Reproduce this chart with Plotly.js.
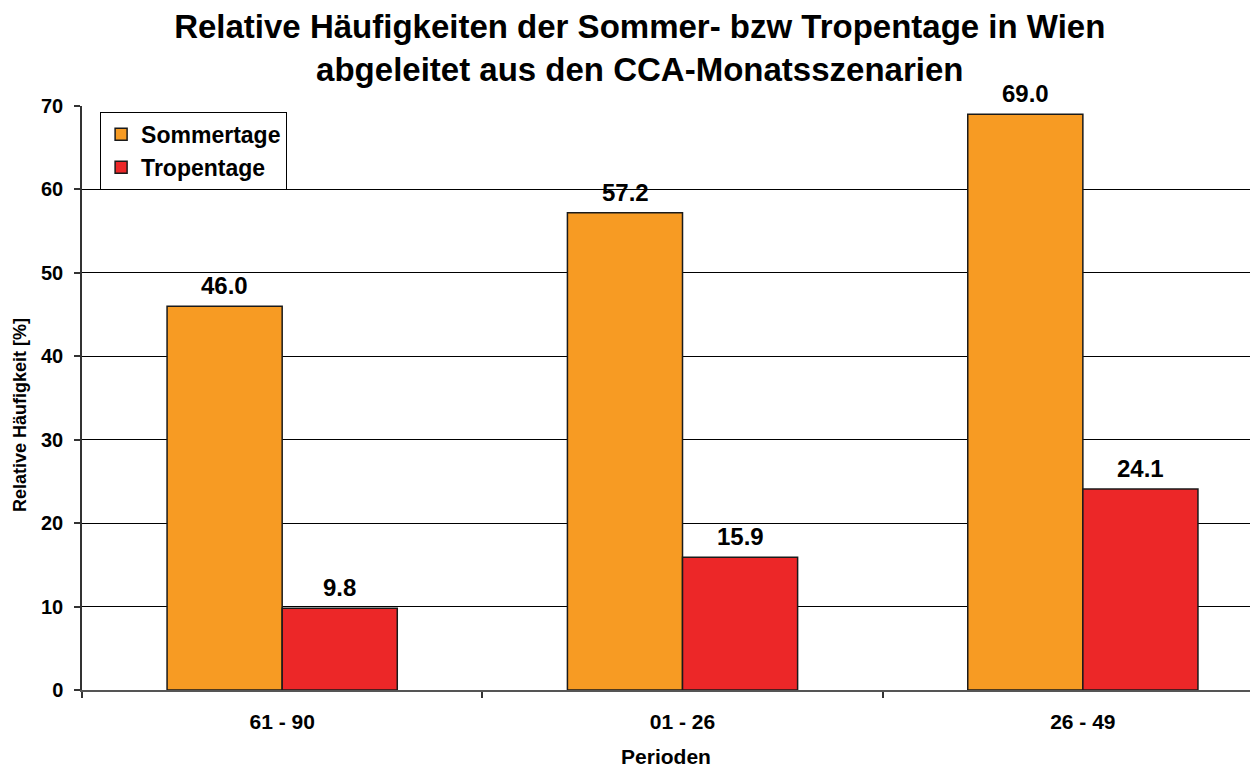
<!DOCTYPE html>
<html><head><meta charset="utf-8">
<script src="https://cdn.plot.ly/plotly-3.0.1.min.js"></script>
<style>html,body{margin:0;padding:0;background:#fff}</style>
</head><body>
<div id="chart" style="width:1252px;height:768px"></div>
<script>
const categories = ["61 - 90", "01 - 26", "26 - 49"];
const sommertage = [46.0, 57.2, 69.0];
const tropentage = [9.8, 15.9, 24.1];
const yTicks = [0, 10, 20, 30, 40, 50, 60, 70];

const FONT = "Liberation Sans, Arial, sans-serif";
const traces = [
  {type: "bar", name: "<b>Sommertage</b>", x: categories, y: sommertage,
   marker: {color: "#F79B23", line: {color: "#1a1a1a", width: 1.5}}},
  {type: "bar", name: "<b>Tropentage</b>", x: categories, y: tropentage,
   marker: {color: "#EC2728", line: {color: "#1a1a1a", width: 1.5}}}
];
const annotations = [];
[sommertage, tropentage].forEach((arr, si) => {
  arr.forEach((v, i) => {
    annotations.push({x: categories[i], y: v, xref: "x", yref: "y",
      text: "<b>" + v.toFixed(1) + "</b>", showarrow: false,
      xshift: si === 0 ? -57.5 : 57.5, yanchor: "bottom", yshift: 5,
      font: {family: FONT, size: 24, color: "#000"}});
  });
});
annotations.push({xref: "paper", yref: "paper", x: 0, y: 0.471, xshift: -62,
  xanchor: "center", yanchor: "middle", textangle: -90, showarrow: false,
  text: "<b>Relative Häufigkeit [%]</b>", font: {family: FONT, size: 18, color: "#000"}});
const layout = {
  width: 1252, height: 768,
  margin: {l: 82, r: 2, t: 106, b: 78},
  paper_bgcolor: "#fff", plot_bgcolor: "#fff",
  title: {text: "<b>Relative Häufigkeiten der Sommer- bzw Tropentage in Wien<br>abgeleitet aus den CCA-Monatsszenarien</b>",
    font: {family: FONT, size: 33, color: "#000"}, x: 0.511, xanchor: "center", y: 0.951, yanchor: "middle"},
  barmode: "group", bargap: 0.425, bargroupgap: 0,
  showlegend: true,
  legend: {x: 0.0155, y: 0.99, xanchor: "left", yanchor: "top", bgcolor: "#fff",
    bordercolor: "#000", borderwidth: 1, font: {family: FONT, size: 23, color: "#000"},
    tracegroupgap: 0, itemwidth: 30},
  xaxis: {type: "category", range: [-0.5, 2.4175], tickson: "boundaries",
    ticks: "outside", ticklen: 6, tickcolor: "#333", tickwidth: 1.5,
    showline: true, linecolor: "#555", linewidth: 1.5, showgrid: false,
    ticklabelstandoff: 12,
    tickfont: {family: FONT, size: 21, color: "#000"},
    title: {text: "<b>Perioden</b>", font: {family: FONT, size: 21, color: "#000"}, standoff: 17}},
  yaxis: {range: [0, 70], tickvals: yTicks, ticktext: yTicks.map(t => "<b>" + t + "</b>"),
    ticks: "outside", ticklen: 6, tickcolor: "#333", tickwidth: 1.5,
    showline: true, linecolor: "#333", linewidth: 1.5,
    showgrid: true, gridcolor: "#000", gridwidth: 1, zeroline: false,
    ticklabelstandoff: 7,
    tickfont: {family: FONT, size: 20, color: "#000"}},
  annotations: annotations
};
layout.xaxis.tickvals = categories;
layout.xaxis.ticktext = categories.map(c => "<b>" + c + "</b>");
Plotly.newPlot("chart", traces, layout, {displayModeBar: false});
</script>
</body></html>
